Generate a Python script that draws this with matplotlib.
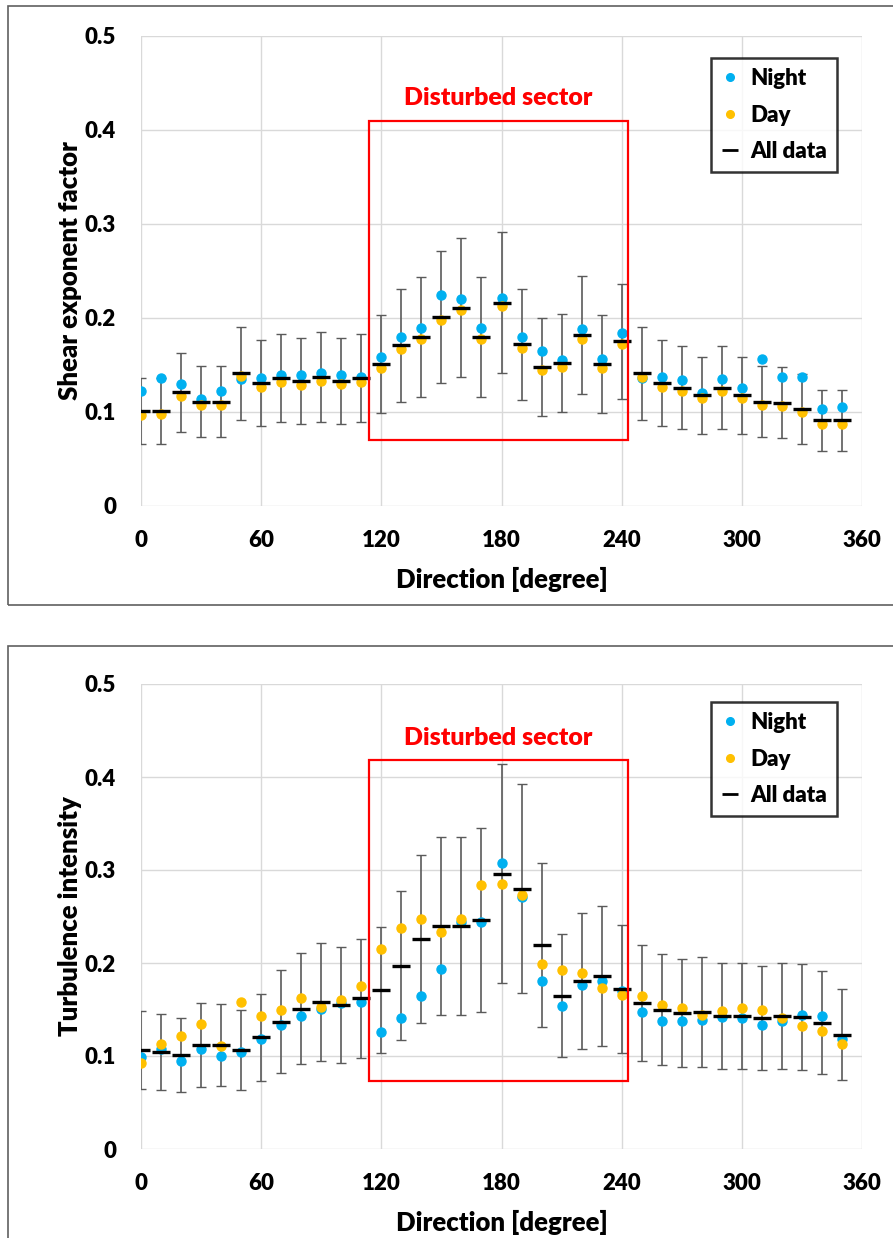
import numpy as np
import matplotlib
matplotlib.use('Agg')
import matplotlib.pyplot as plt
from matplotlib.patches import Rectangle
from matplotlib.lines import Line2D

plt.rcParams['font.family'] = ['Lato', 'DejaVu Sans']
plt.rcParams['font.weight'] = 'bold'

direction = np.arange(0, 360, 10)

# shear exponent factor
shear_night = [0.122, 0.136, 0.130, 0.114, 0.122, 0.135, 0.136, 0.139, 0.139, 0.141, 0.139, 0.137,
               0.159, 0.180, 0.189, 0.224, 0.220, 0.189, 0.221, 0.180, 0.165, 0.155, 0.188, 0.156,
               0.184, 0.136, 0.137, 0.134, 0.120, 0.135, 0.125, 0.156, 0.137, 0.137, 0.103, 0.105]
shear_day = [0.097, 0.098, 0.117, 0.107, 0.107, 0.138, 0.127, 0.132, 0.129, 0.133, 0.130, 0.132,
             0.147, 0.167, 0.178, 0.198, 0.208, 0.178, 0.213, 0.168, 0.145, 0.148, 0.178, 0.147,
             0.172, 0.137, 0.127, 0.122, 0.115, 0.122, 0.115, 0.107, 0.106, 0.100, 0.087, 0.087]
shear_all = [0.101, 0.101, 0.121, 0.111, 0.111, 0.141, 0.131, 0.136, 0.133, 0.137, 0.133, 0.136,
             0.151, 0.171, 0.180, 0.201, 0.211, 0.180, 0.216, 0.172, 0.148, 0.152, 0.182, 0.151,
             0.175, 0.141, 0.131, 0.126, 0.118, 0.126, 0.118, 0.111, 0.110, 0.103, 0.091, 0.091]
shear_std = [0.035, 0.035, 0.042, 0.038, 0.038, 0.049, 0.046, 0.047, 0.046, 0.048, 0.046, 0.047,
             0.052, 0.060, 0.064, 0.070, 0.074, 0.064, 0.075, 0.059, 0.052, 0.052, 0.063, 0.052,
             0.061, 0.049, 0.046, 0.044, 0.041, 0.044, 0.041, 0.038, 0.038, 0.037, 0.032, 0.032]

# turbulence intensity
ti_night = [0.099, 0.107, 0.095, 0.107, 0.100, 0.104, 0.118, 0.133, 0.143, 0.151, 0.157, 0.158,
            0.126, 0.141, 0.164, 0.194, 0.244, 0.244, 0.308, 0.271, 0.181, 0.154, 0.176, 0.181,
            0.170, 0.147, 0.138, 0.138, 0.139, 0.142, 0.141, 0.133, 0.138, 0.144, 0.143, 0.118]
ti_day = [0.093, 0.113, 0.122, 0.134, 0.111, 0.158, 0.143, 0.150, 0.162, 0.153, 0.160, 0.175,
          0.215, 0.238, 0.247, 0.233, 0.247, 0.284, 0.285, 0.273, 0.199, 0.192, 0.189, 0.173,
          0.166, 0.165, 0.155, 0.152, 0.144, 0.148, 0.152, 0.149, 0.141, 0.132, 0.127, 0.113]
ti_all = [0.106, 0.104, 0.101, 0.112, 0.112, 0.106, 0.120, 0.137, 0.151, 0.158, 0.155, 0.162,
          0.171, 0.197, 0.226, 0.240, 0.240, 0.246, 0.296, 0.280, 0.219, 0.165, 0.181, 0.186,
          0.172, 0.157, 0.150, 0.146, 0.147, 0.143, 0.143, 0.141, 0.143, 0.142, 0.136, 0.123]
ti_std = [0.042, 0.041, 0.040, 0.045, 0.044, 0.043, 0.047, 0.055, 0.060, 0.063, 0.062, 0.064,
          0.068, 0.080, 0.090, 0.096, 0.096, 0.099, 0.118, 0.112, 0.088, 0.066, 0.073, 0.075,
          0.069, 0.062, 0.060, 0.058, 0.059, 0.057, 0.057, 0.056, 0.057, 0.057, 0.055, 0.049]

sector = (114, 243)
night_color = '#00B0F0'
day_color = '#FFC000'

fig = plt.figure(figsize=(8.93, 12.38), dpi=100)

# grey frames around each chart
fig.patches.append(Rectangle((8 / 893, 1 - 605 / 1238), 1.0, 599 / 1238, transform=fig.transFigure,
                             fill=False, edgecolor='#606060', linewidth=1.2))
fig.patches.append(Rectangle((8 / 893, -0.05), 1.0, 1 - 646 / 1238 + 0.05, transform=fig.transFigure,
                             fill=False, edgecolor='#606060', linewidth=1.2))


def panel(rect, night, day, alldata, std, ylabel, box_y, legend_top):
    ax = fig.add_axes(rect)
    ax.errorbar(direction, alldata, yerr=std, fmt='none', ecolor='#5a5a5a', elinewidth=1.2,
                capsize=3.5, capthick=1.0, zorder=2)
    ax.plot(direction, night, 'o', color=night_color, markersize=6.5, zorder=3)
    ax.plot(direction, day, 'o', color=day_color, markersize=6.5, zorder=4)
    ax.plot(direction, alldata, '_', color='black', markersize=12.5, markeredgewidth=2.4, zorder=5)

    ax.add_patch(Rectangle((sector[0], box_y[0]), sector[1] - sector[0], box_y[1] - box_y[0],
                           fill=False, edgecolor='red', linewidth=1.6, zorder=6))
    ax.text((sector[0] + sector[1]) / 2, box_y[1] + 0.024, 'Disturbed sector', color='red',
            fontsize=18, fontweight='heavy', ha='center', va='center')

    ax.set_xlim(0, 360)
    ax.set_ylim(0, 0.5)
    ax.set_xticks(np.arange(0, 361, 60))
    ax.set_yticks(np.arange(0, 0.51, 0.1))
    ax.set_yticklabels(['0', '0.1', '0.2', '0.3', '0.4', '0.5'])
    ax.tick_params(length=0, labelsize=16, pad=17)
    ax.tick_params(axis='y', pad=18)
    for lab in ax.get_xticklabels() + ax.get_yticklabels():
        lab.set_fontweight('heavy')
    ax.grid(True, color='#d9d9d9', linewidth=1.0, zorder=0)
    ax.set_axisbelow(True)
    for s in ax.spines.values():
        s.set_visible(False)
    ax.set_xlabel('Direction [degree]', fontsize=18.5, fontweight='heavy', labelpad=12)
    ax.set_ylabel(ylabel, fontsize=18.5, fontweight='heavy', labelpad=2)

    handles = [Line2D([], [], marker='o', color=night_color, linestyle='none', markersize=5.5),
               Line2D([], [], marker='o', color=day_color, linestyle='none', markersize=5.5),
               Line2D([], [], marker='_', color='black', linestyle='none', markersize=11,
                      markeredgewidth=2)]
    leg = fig.legend(handles, ['Night', 'Day', 'All data'], loc='upper left',
                     bbox_to_anchor=(711 / 893, 1 - legend_top / 1238), fontsize=16,
                     frameon=True, fancybox=False, handlelength=0.8, handletextpad=0.5,
                     labelspacing=0.7, borderpad=0.45, borderaxespad=0)
    leg.get_frame().set_edgecolor('black')
    leg.get_frame().set_linewidth(1.8)
    for t in leg.get_texts():
        t.set_fontweight('heavy')
    return ax


panel([141 / 893, 1 - 506 / 1238, 721 / 893, 470 / 1238], shear_night, shear_day, shear_all, shear_std,
      'Shear exponent factor', (0.07, 0.41), 58)
panel([141 / 893, 1 - 1149 / 1238, 721 / 893, 465 / 1238], ti_night, ti_day, ti_all, ti_std,
      'Turbulence intensity', (0.073, 0.418), 702)

fig.savefig('out.png', dpi=100)
